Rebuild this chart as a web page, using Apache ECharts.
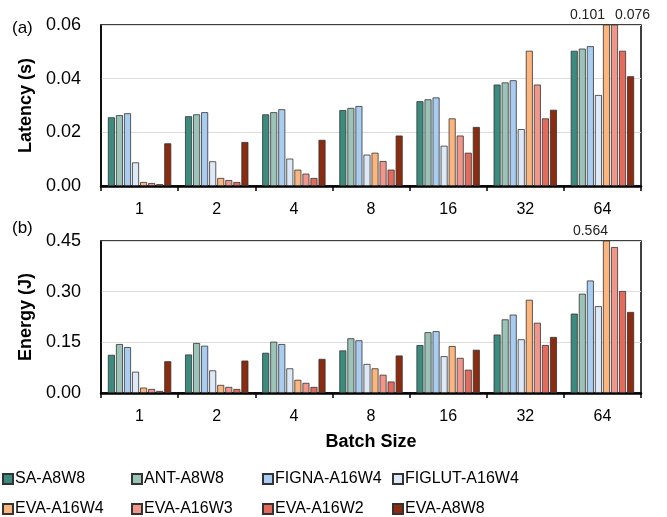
<!DOCTYPE html>
<html>
<head>
<meta charset="utf-8">
<script src="https://cdn.jsdelivr.net/npm/echarts@6/dist/echarts.min.js"></script>
<style>
  html, body { margin: 0; padding: 0; background: #fff; }
  #main { width: 667px; height: 517px; }
</style>
</head>
<body>
<div id="main"></div>
<script>
// 数据
var batchSizes = ['1', '2', '4', '8', '16', '32', '64']
var methods = ['SA-A8W8', 'ANT-A8W8', 'FIGNA-A16W4', 'FIGLUT-A16W4',
  'EVA-A16W4', 'EVA-A16W3', 'EVA-A16W2', 'EVA-A8W8']
var colors = ['#3b8b7f', '#9cc3b8', '#a9cdf1', '#dde9f6',
  '#fcb57c', '#f0968a', '#e46b5c', '#8b2b0f']

// 延迟 (s)
var latency = [
  [0.0256, 0.0260, 0.0267, 0.0283, 0.0316, 0.0378, 0.0504],
  [0.0264, 0.0267, 0.0275, 0.0291, 0.0323, 0.0386, 0.0512],
  [0.0271, 0.0275, 0.0286, 0.0298, 0.0330, 0.0394, 0.0521],
  [0.0088, 0.0092, 0.0102, 0.0117, 0.0150, 0.0212, 0.0339],
  [0.0015, 0.0030, 0.0061, 0.0124, 0.0252, 0.0504, 0.101],
  [0.0011, 0.0022, 0.0046, 0.0093, 0.0188, 0.0378, 0.076],
  [0.0007, 0.0015, 0.0030, 0.0061, 0.0124, 0.0252, 0.0504],
  [0.0159, 0.0164, 0.0172, 0.0188, 0.0220, 0.0284, 0.0409]
]

// 能耗 (J)
var energy = [
  [0.113, 0.114, 0.119, 0.126, 0.142, 0.173, 0.235],
  [0.145, 0.148, 0.152, 0.162, 0.180, 0.218, 0.294],
  [0.136, 0.140, 0.145, 0.156, 0.183, 0.232, 0.333],
  [0.063, 0.067, 0.073, 0.086, 0.109, 0.159, 0.257],
  [0.016, 0.024, 0.039, 0.073, 0.139, 0.276, 0.564],
  [0.012, 0.018, 0.030, 0.054, 0.104, 0.208, 0.432],
  [0.006, 0.012, 0.018, 0.034, 0.069, 0.142, 0.302],
  [0.094, 0.096, 0.101, 0.111, 0.128, 0.166, 0.240]
]

// 超出坐标范围的柱子标注
var clippedLabels = [
  { chart: 0, series: 4, index: 6, text: '0.101', dx: -19 },
  { chart: 0, series: 5, index: 6, text: '0.076', dx: 18 },
  { chart: 1, series: 4, index: 6, text: '0.564', dx: -16 }
]

var chart = echarts.init(document.getElementById('main'))
var font = 'Liberation Sans, Arial, Helvetica, sans-serif'

function buildData (values, chartIdx, seriesIdx) {
  return values.map(function (v, i) {
    var hit = clippedLabels.find(function (c) {
      return c.chart === chartIdx && c.series === seriesIdx && c.index === i
    })
    if (!hit) return v
    return {
      value: v,
      label: {
        show: true,
        position: 'top',
        offset: [hit.dx, 3],
        formatter: hit.text,
        fontSize: 14,
        fontFamily: font,
        color: '#222'
      }
    }
  })
}

var series = []
;[latency, energy].forEach(function (set, c) {
  set.forEach(function (vals, s) {
    series.push({
      name: methods[s],
      type: 'bar',
      xAxisIndex: c,
      yAxisIndex: c,
      data: buildData(vals, c, s),
      barWidth: 7,
      barGap: '15%',
      itemStyle: {
        color: colors[s],
        borderColor: '#333',
        borderWidth: 0.8
      }
    })
  })
})

function xAxis (gridIndex, name) {
  return {
    type: 'category',
    gridIndex: gridIndex,
    data: batchSizes,
    name: name,
    nameLocation: 'middle',
    nameGap: 40,
    nameTextStyle: { fontSize: 18, fontWeight: 'bold', color: '#000', fontFamily: font },
    axisLine: { lineStyle: { color: '#000', width: 2.5 } },
    axisTick: { show: true, length: 5, lineStyle: { color: '#000', width: 1.5 } },
    axisLabel: { fontSize: 16, color: '#000', margin: 16, fontFamily: font }
  }
}

function yAxis (gridIndex, name, max, interval) {
  return {
    type: 'value',
    gridIndex: gridIndex,
    min: 0,
    max: max,
    interval: interval,
    name: name,
    nameLocation: 'middle',
    nameGap: 64,
    nameTextStyle: { fontSize: 18, fontWeight: 'bold', color: '#000', fontFamily: font },
    axisLine: { show: true, lineStyle: { color: '#000', width: 1.5 } },
    axisTick: { show: false },
    axisLabel: {
      fontSize: 18,
      color: '#000',
      margin: 20,
      fontFamily: font,
      formatter: function (v) { return v.toFixed(2) }
    },
    splitLine: { lineStyle: { color: '#dddddd', width: 1 } }
  }
}

// 图例：四列两行，每项单独放置
var legends = methods.map(function (m, i) {
  return {
    left: [2, 131, 262, 392][i % 4],
    top: i < 4 ? 471 : 501,
    padding: 0,
    itemWidth: 10,
    itemHeight: 10,
    icon: 'rect',
    selectedMode: false,
    data: [m],
    textStyle: { fontSize: 16, color: '#000', fontFamily: font, padding: [0, 0, 0, -3] }
  }
})

chart.setOption({
  animation: false,
  title: [
    { text: '(a)', left: 7, top: 15, textStyle: { fontSize: 17, fontWeight: 'normal', color: '#000', fontFamily: font } },
    { text: '(b)', left: 7, top: 215, textStyle: { fontSize: 17, fontWeight: 'normal', color: '#000', fontFamily: font } }
  ],
  legend: legends,
  grid: [
    { left: 101, right: 26, top: 25, height: 161, show: true, borderColor: '#000', borderWidth: 1.5 },
    { left: 101, right: 26, top: 241, height: 152, show: true, borderColor: '#000', borderWidth: 1.5 }
  ],
  xAxis: [xAxis(0, ''), xAxis(1, 'Batch Size')],
  yAxis: [yAxis(0, 'Latency (s)', 0.06, 0.02), yAxis(1, 'Energy (J)', 0.45, 0.15)],
  series: series
})
</script>
</body>
</html>
